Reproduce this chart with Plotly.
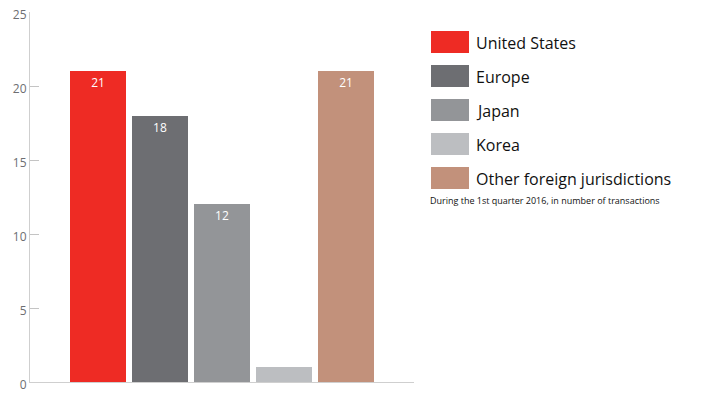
import plotly.graph_objects as go

categories = ["United States", "Europe", "Japan", "Korea", "Other foreign jurisdictions"]
values = [21, 18, 12, 1, 21]
bar_labels = ["21", "18", "12", "", "21"]
colors = ["#EE2B24", "#6D6E72", "#939598", "#BCBEC1", "#C2917B"]
y_ticks = [0, 5, 10, 15, 20, 25]
subtitle = "During the 1st quarter 2016, in number of transactions"

FONT = "Open Sans"
xpos = list(range(len(categories)))

fig = go.Figure()
fig.add_trace(go.Bar(
    x=xpos, y=values, marker=dict(color=colors, line=dict(width=0)),
    width=0.91, text=bar_labels, textposition="inside", insidetextanchor="end",
    textfont=dict(color="white", size=12, family=FONT), showlegend=False,
    hoverinfo="skip", cliponaxis=False,
))

# page coordinates of the plot area: x 30..414, y 12..382
shapes = []
annotations = []
row_top = 31
row_step = 34
for i, (name, c) in enumerate(zip(categories, colors)):
    y0 = row_top + i * row_step
    shapes.append(dict(type="rect", xref="paper", yref="paper",
                       x0=(431 - 30) / 384, x1=(469 - 30) / 384,
                       y0=1 - (y0 + 22 - 12) / 370, y1=1 - (y0 - 12) / 370,
                       fillcolor=c, line=dict(width=0), layer="above"))
    annotations.append(dict(xref="paper", yref="paper", x=(474 - 30) / 384,
                            y=1 - (y0 + 12 - 12) / 370, text=name, showarrow=False,
                            xanchor="left", yanchor="middle",
                            font=dict(size=16, color="#111111", family=FONT)))
annotations.append(dict(xref="paper", yref="paper", x=(428 - 30) / 384,
                        y=1 - (200 - 12) / 370, text=subtitle, showarrow=False,
                        xanchor="left", yanchor="middle",
                        font=dict(size=9, color="#111111", family=FONT)))

fig.update_layout(
    width=686, height=381,
    margin=dict(l=22, r=280, t=4, b=7),
    plot_bgcolor="white", paper_bgcolor="white",
    shapes=shapes, annotations=annotations,
    bargap=0,
    xaxis=dict(range=[-1.1, 5.1], showgrid=False, zeroline=False, automargin=False,
               showline=True, linecolor="#CFCFCF", linewidth=1,
               tickvals=[5.1], ticktext=[""], ticks="inside", ticklen=9,
               tickcolor="#CFCFCF", fixedrange=True),
    yaxis=dict(range=[0, 25], tickvals=y_ticks, showgrid=False, zeroline=False,
               automargin=False, ticklabeloverflow="allow", ticklabelshift=3,
               showline=True, linecolor="#CFCFCF", linewidth=1,
               ticks="inside", ticklen=9, tickcolor="#C4C4C4",
               tickfont=dict(size=12, color="#6D6E72", family=FONT)),
    font=dict(family=FONT),
)

fig.write_html("out.html")
